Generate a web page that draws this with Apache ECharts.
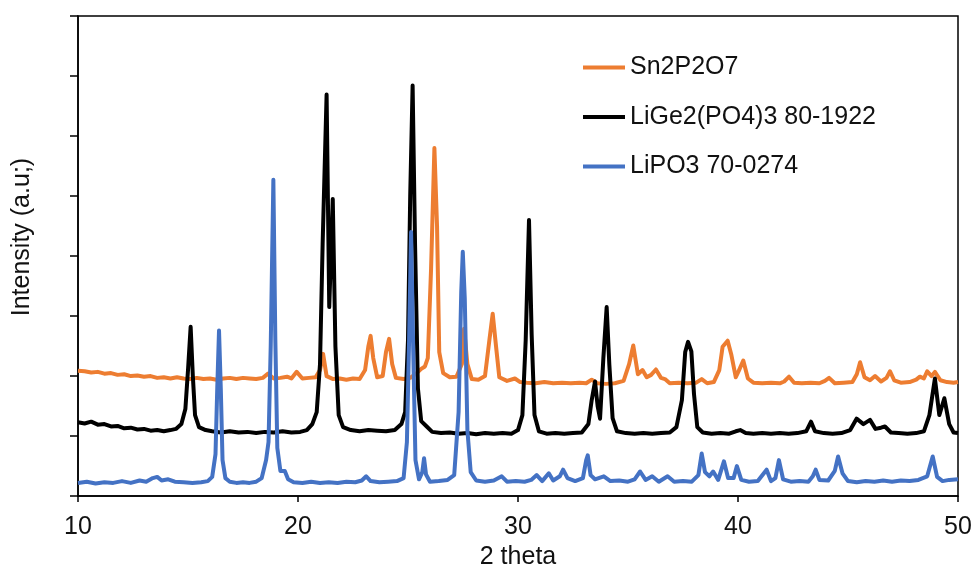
<!DOCTYPE html>
<html>
<head>
<meta charset="utf-8">
<script src="https://cdn.jsdelivr.net/npm/echarts@6/dist/echarts.min.js"></script>
<style>html,body{margin:0;padding:0;background:#fff;}#c{width:976px;height:575px;}</style>
</head>
<body>
<div id="c"></div>
<script>
const seriesNames = ['Sn2P2O7', 'LiGe2(PO4)3 80-1922', 'LiPO3 70-0274'];
const xTicks = [10, 20, 30, 40, 50];

const sn2p2o7 = [[10,2.09],[10.3,2.08],[10.6,2.06],[10.9,2.07],[11.2,2.04],[11.5,2.05],[11.8,2.02],[12.1,2.03],[12.4,2.0],[12.7,2.01],[13.0,1.99],[13.3,2.0],[13.6,1.97],[13.9,1.98],[14.2,1.96],[14.5,1.98],[14.8,1.96],[15.1,1.95],[15.4,1.97],[15.7,1.95],[16.0,1.96],[16.3,1.94],[16.6,1.96],[16.9,1.97],[17.2,1.95],[17.5,1.97],[17.8,1.96],[18.1,1.95],[18.4,1.97],[18.64,2.04],[18.9,1.96],[19.2,1.97],[19.5,1.99],[19.7,1.96],[19.94,2.07],[20.2,1.96],[20.5,1.97],[20.8,1.98],[21.0,2.1],[21.14,2.37],[21.3,2.0],[21.6,1.95],[21.9,1.96],[22.2,1.94],[22.5,1.96],[22.8,1.95],[23.05,2.1],[23.2,2.5],[23.3,2.67],[23.42,2.3],[23.6,1.98],[23.85,2.0],[24.0,2.4],[24.14,2.62],[24.28,2.2],[24.45,1.97],[24.8,1.95],[25.1,1.97],[25.4,2.05],[25.6,2.12],[25.77,2.16],[25.9,2.3],[26.05,3.8],[26.2,5.80],[26.32,4.5],[26.42,2.4],[26.6,2.05],[26.9,1.98],[27.2,1.99],[27.45,2.2],[27.55,2.79],[27.7,2.2],[27.9,1.95],[28.2,1.94],[28.5,2.0],[28.7,2.6],[28.85,3.04],[29.0,2.5],[29.15,1.98],[29.5,1.92],[29.86,1.96],[30.1,1.9],[30.4,1.89],[30.8,1.88],[31.2,1.9],[31.6,1.88],[32.0,1.89],[32.4,1.88],[32.8,1.89],[33.1,1.88],[33.35,1.94],[33.6,1.88],[34.0,1.87],[34.4,1.88],[34.8,1.92],[35.05,2.2],[35.24,2.51],[35.45,2.03],[35.66,2.1],[35.85,1.98],[36.05,2.02],[36.27,2.11],[36.5,1.97],[36.68,1.95],[36.9,1.88],[37.3,1.89],[37.7,1.88],[38.1,1.89],[38.35,1.95],[38.6,1.88],[38.9,1.9],[39.15,2.1],[39.3,2.49],[39.53,2.59],[39.7,2.35],[39.9,1.98],[40.05,2.1],[40.24,2.26],[40.45,1.96],[40.7,1.89],[41.1,1.88],[41.5,1.89],[41.9,1.88],[42.1,1.91],[42.32,1.99],[42.55,1.89],[42.9,1.88],[43.3,1.89],[43.7,1.88],[43.95,1.92],[44.14,1.97],[44.4,1.88],[44.8,1.89],[45.2,1.9],[45.4,2.03],[45.55,2.23],[45.75,1.98],[46.0,1.93],[46.23,2.0],[46.5,1.91],[46.75,1.97],[46.91,2.08],[47.1,1.93],[47.4,1.89],[47.8,1.9],[48.1,1.94],[48.27,1.99],[48.45,1.96],[48.6,2.08],[48.8,2.0],[48.95,2.07],[49.2,1.93],[49.5,1.9],[49.8,1.89],[50,1.9]];

const lige2po43 = [[10,1.23],[10.3,1.21],[10.6,1.24],[10.9,1.19],[11.2,1.2],[11.5,1.16],[11.8,1.17],[12.1,1.13],[12.4,1.14],[12.7,1.11],[13.0,1.12],[13.3,1.09],[13.6,1.1],[13.9,1.08],[14.2,1.1],[14.45,1.12],[14.7,1.2],[14.88,1.45],[15.0,2.1],[15.12,2.82],[15.22,2.0],[15.32,1.35],[15.5,1.15],[15.8,1.1],[16.1,1.08],[16.5,1.06],[16.9,1.08],[17.3,1.06],[17.7,1.07],[18.1,1.05],[18.5,1.07],[18.9,1.06],[19.3,1.08],[19.7,1.06],[20.1,1.07],[20.4,1.1],[20.65,1.2],[20.85,1.4],[21.0,2.2],[21.12,4.2],[21.3,6.69],[21.42,3.15],[21.58,4.95],[21.7,2.5],[21.85,1.35],[22.05,1.15],[22.4,1.1],[22.8,1.08],[23.2,1.1],[23.6,1.09],[24.0,1.08],[24.4,1.1],[24.7,1.2],[24.87,1.4],[25.0,2.6],[25.1,5.0],[25.21,6.84],[25.32,4.2],[25.45,1.8],[25.6,1.25],[25.85,1.16],[26.1,1.07],[26.5,1.05],[26.9,1.06],[27.3,1.04],[27.7,1.05],[28.1,1.03],[28.5,1.05],[28.9,1.04],[29.3,1.05],[29.7,1.04],[30.0,1.1],[30.2,1.35],[30.35,2.6],[30.5,4.6],[30.62,2.7],[30.75,1.35],[30.95,1.08],[31.3,1.04],[31.7,1.05],[32.1,1.04],[32.5,1.05],[32.9,1.06],[33.2,1.2],[33.35,1.6],[33.5,1.91],[33.62,1.5],[33.73,1.29],[33.88,2.3],[34.03,3.15],[34.15,2.2],[34.3,1.3],[34.5,1.08],[34.9,1.05],[35.3,1.04],[35.7,1.05],[36.1,1.04],[36.5,1.05],[36.9,1.06],[37.2,1.15],[37.45,1.6],[37.6,2.4],[37.73,2.57],[37.88,2.41],[38.0,1.7],[38.15,1.15],[38.4,1.06],[38.8,1.04],[39.2,1.05],[39.6,1.04],[39.9,1.08],[40.1,1.1],[40.35,1.05],[40.7,1.04],[41.1,1.05],[41.5,1.04],[41.9,1.05],[42.3,1.04],[42.7,1.05],[43.1,1.08],[43.32,1.24],[43.5,1.08],[43.9,1.05],[44.3,1.04],[44.7,1.05],[45.1,1.1],[45.39,1.29],[45.7,1.2],[46.0,1.27],[46.25,1.12],[46.5,1.14],[46.68,1.16],[46.95,1.06],[47.3,1.05],[47.7,1.04],[48.1,1.05],[48.45,1.08],[48.7,1.35],[48.95,1.96],[49.15,1.35],[49.38,1.63],[49.6,1.2],[49.8,1.06],[50,1.05]];

const lipo3 = [[10,0.22],[10.4,0.24],[10.8,0.21],[11.2,0.23],[11.6,0.22],[12.0,0.25],[12.4,0.22],[12.8,0.26],[13.1,0.24],[13.4,0.30],[13.6,0.32],[13.8,0.26],[14.1,0.28],[14.4,0.24],[14.8,0.23],[15.2,0.22],[15.6,0.23],[15.9,0.25],[16.1,0.32],[16.25,0.7],[16.33,1.8],[16.41,2.76],[16.49,1.8],[16.57,0.6],[16.7,0.3],[16.9,0.24],[17.2,0.22],[17.5,0.23],[17.8,0.22],[18.1,0.24],[18.35,0.3],[18.55,0.6],[18.66,0.9],[18.76,2.5],[18.88,5.27],[18.97,2.6],[19.06,0.8],[19.2,0.42],[19.4,0.42],[19.55,0.28],[19.8,0.23],[20.2,0.22],[20.6,0.24],[21.0,0.22],[21.4,0.23],[21.8,0.22],[22.2,0.24],[22.6,0.23],[22.9,0.26],[23.1,0.33],[23.3,0.25],[23.7,0.23],[24.1,0.24],[24.5,0.25],[24.8,0.3],[24.95,0.9],[25.05,2.6],[25.14,4.40],[25.24,2.4],[25.34,0.6],[25.5,0.28],[25.65,0.4],[25.73,0.63],[25.82,0.36],[26.0,0.24],[26.4,0.25],[26.8,0.27],[27.1,0.35],[27.3,1.4],[27.42,3.4],[27.49,4.07],[27.58,3.3],[27.7,1.1],[27.85,0.4],[28.1,0.26],[28.5,0.24],[28.9,0.26],[29.26,0.33],[29.5,0.24],[29.9,0.25],[30.3,0.24],[30.6,0.27],[30.85,0.35],[31.1,0.25],[31.4,0.38],[31.6,0.26],[31.9,0.33],[32.05,0.44],[32.25,0.3],[32.6,0.25],[32.95,0.3],[33.1,0.6],[33.17,0.68],[33.3,0.35],[33.5,0.28],[33.9,0.33],[34.2,0.25],[34.6,0.26],[35.0,0.24],[35.3,0.28],[35.55,0.41],[35.8,0.27],[36.1,0.33],[36.4,0.24],[36.8,0.33],[37.1,0.24],[37.5,0.25],[37.9,0.24],[38.2,0.35],[38.35,0.71],[38.5,0.4],[38.7,0.33],[38.87,0.41],[39.1,0.27],[39.36,0.58],[39.55,0.3],[39.8,0.3],[39.95,0.5],[40.15,0.27],[40.5,0.24],[40.9,0.25],[41.3,0.44],[41.5,0.25],[41.7,0.3],[41.86,0.6],[42.05,0.28],[42.4,0.24],[42.8,0.25],[43.2,0.24],[43.4,0.33],[43.53,0.44],[43.7,0.27],[44.1,0.26],[44.4,0.42],[44.55,0.66],[44.75,0.38],[45.0,0.25],[45.4,0.23],[45.8,0.25],[46.2,0.24],[46.6,0.26],[47.0,0.24],[47.4,0.26],[47.8,0.25],[48.2,0.27],[48.6,0.33],[48.85,0.66],[49.05,0.32],[49.3,0.25],[49.6,0.27],[50,0.28]];

const colors = ['#ED7D31', '#000000', '#4472C4'];
const dataSets = [sn2p2o7, lige2po43, lipo3];

const chart = echarts.init(document.getElementById('c'), null, {renderer: 'canvas'});
const font = '"Liberation Sans", Arial, sans-serif';
chart.setOption({
  animation: false,
  backgroundColor: '#fff',
  textStyle: {fontFamily: font, color: '#111'},
  grid: {left: 78, right: 18, top: 16, bottom: 77, show: true, borderColor: '#000', borderWidth: 1.5, backgroundColor: 'transparent'},
  legend: {
    orient: 'vertical', left: 578, top: 50, icon: 'rect', itemWidth: 42, itemHeight: 4, itemGap: 24.5,
    textStyle: {fontFamily: font, fontSize: 25, lineHeight: 25, color: '#111'},
    data: seriesNames
  },
  xAxis: {
    type: 'value', min: xTicks[0], max: xTicks[xTicks.length - 1], interval: 10,
    name: '2 theta', nameLocation: 'middle', nameGap: 45,
    nameTextStyle: {fontFamily: font, fontSize: 25, color: '#111'},
    axisLine: {lineStyle: {color: '#000', width: 1.5}},
    axisTick: {inside: false, length: 6, lineStyle: {color: '#000', width: 1.5}},
    axisLabel: {fontFamily: font, fontSize: 25, color: '#111', margin: 19},
    splitLine: {show: false}
  },
  yAxis: {
    type: 'value', min: 0, max: 8, interval: 1,
    name: 'Intensity (a.u;)', nameLocation: 'middle', nameGap: 43,
    nameTextStyle: {fontFamily: font, fontSize: 25, color: '#111', padding: [0, 0, 0, 38]},
    axisLine: {show: true, lineStyle: {color: '#000', width: 1.5}},
    axisTick: {show: true, inside: false, length: 8, lineStyle: {color: '#000', width: 1.5}},
    axisLabel: {show: false},
    splitLine: {show: false}
  },
  series: seriesNames.map((n, i) => ({
    name: n, type: 'line', data: dataSets[i], showSymbol: false, symbol: 'none',
    smooth: false, color: colors[i],
    lineStyle: {color: colors[i], width: 4, join: 'round'}, z: 2 + i
  }))
});
</script>
</body>
</html>
